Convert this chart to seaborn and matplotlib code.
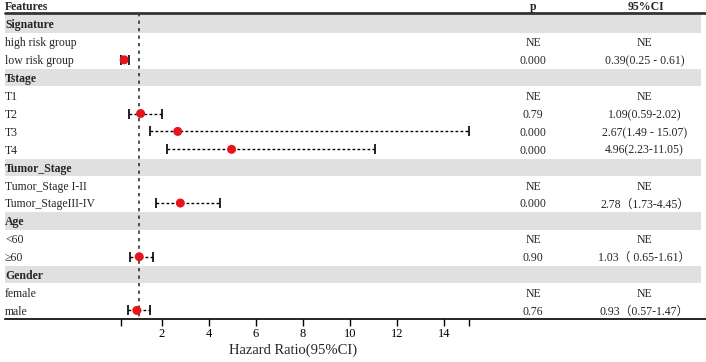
import numpy as np
import pandas as pd
import seaborn as sns
import matplotlib.pyplot as plt


# rows of the forest plot, top to bottom
features = ["Signature", "high risk group", "low risk group",
            "Tstage", "T1", "T2", "T3", "T4",
            "Tumor_Stage", "Tumor_Stage I-II", "Tumor_StageIII-IV",
            "Age", "<60", "\u226560",
            "Gender", "female", "male"]
is_group = [True, False, False,
            True, False, False, False, False,
            True, False, False,
            True, False, False,
            True, False, False]
hr = [np.nan, np.nan, 0.39,
      np.nan, np.nan, 1.09, 2.67, 4.96,
      np.nan, np.nan, 2.78,
      np.nan, np.nan, 1.03,
      np.nan, np.nan, 0.93]
lower = [np.nan, np.nan, 0.25,
         np.nan, np.nan, 0.59, 1.49, 2.23,
         np.nan, np.nan, 1.73,
         np.nan, np.nan, 0.65,
         np.nan, np.nan, 0.57]
upper = [np.nan, np.nan, 0.61,
         np.nan, np.nan, 2.02, 15.07, 11.05,
         np.nan, np.nan, 4.45,
         np.nan, np.nan, 1.61,
         np.nan, np.nan, 1.47]
p_text = ["", "NE", "0.000",
          "", "NE", "0.79", "0.000", "0.000",
          "", "NE", "0.000",
          "", "NE", "0.90",
          "", "NE", "0.76"]
ci_text = ["", "NE", "0.39(0.25 - 0.61)",
           "", "NE", "1.09(0.59-2.02)", "2.67(1.49 - 15.07)", "4.96(2.23-11.05)",
           "", "NE", "2.78\uff081.73-4.45\uff09",
           "", "NE", "1.03\uff08 0.65-1.61\uff09",
           "", "NE", "0.93\uff080.57-1.47\uff09"]
tick_values = [0.25, 2, 4, 6, 8, 10, 12, 14, 15.07]
tick_labels = ["", "2", "4", "6", "8", "10", "12", "14", ""]

df = pd.DataFrame({"feature": features, "group": is_group, "hr": hr,
                   "lower": lower, "upper": upper, "p": p_text, "ci": ci_text})
df["row"] = np.arange(len(df))

sns.set_theme(style="white")
plt.rcParams["font.family"] = ["Liberation Serif", "Noto Sans CJK SC"]
FS = 8.5

fig = plt.figure(figsize=(7.06, 3.62), dpi=100)
ax = fig.add_axes([0, 0, 1, 1])
ax.set_xlim(-4.894, 25.149)
ax.set_ylim(18.88, -1.341)
for s in ["top", "left", "right"]:
    ax.spines[s].set_visible(False)

# grey bands for the group headers
for r in df.loc[df["group"], "row"]:
    ax.axhspan(r - 0.48, r + 0.48, xmin=0.007, xmax=0.993, color="#e0e0e0", lw=0, zorder=0)

# header line
ax.axhline(-0.61, xmin=0.007, xmax=1, color="#333333", lw=2)

# reference line at HR = 1
ax.vlines(1, -0.61, 16.5, color="#333333", lw=1.2, linestyle=(0, (2, 2.5)), zorder=1)

# confidence intervals
est = df.dropna(subset=["hr"])
ax.hlines(est["row"], est["lower"], est["upper"], color="black", lw=1,
          linestyle=(0, (2, 1.6)), zorder=2)
ax.plot(est["lower"], est["row"], "|", color="black", ms=7, mew=1.2, zorder=2)
ax.plot(est["upper"], est["row"], "|", color="black", ms=7, mew=1.2, zorder=2)
sns.scatterplot(data=est, x="hr", y="row", color="#e8141c", s=42,
                edgecolor="none", zorder=3, ax=ax)

# text columns
tr = ax.get_yaxis_transform()
ax.text(5 / 706, -0.95, "Features", transform=tr, fontsize=FS, weight="bold",
        ha="left", va="center")
ax.text(0.755, -0.95, "p", transform=tr, fontsize=FS, weight="bold", ha="center", va="center")
ax.text(0.915, -0.95, "95%CI", transform=tr, fontsize=FS, weight="bold", ha="center", va="center")
for _, row in df.iterrows():
    ax.text(5 / 706, row["row"] + 0.08, row["feature"], transform=tr, fontsize=FS,
            weight="bold" if row["group"] else "normal", ha="left", va="center")
    if row["p"]:
        ax.text(0.755, row["row"] + 0.08, row["p"], transform=tr, fontsize=FS,
                ha="center", va="center")
        ax.text(0.913, row["row"] + 0.08, row["ci"], transform=tr, fontsize=FS,
                ha="center", va="center")

# bottom axis
ax.spines["bottom"].set_position(("data", 16.5))
ax.spines["bottom"].set_color("black")
ax.spines["bottom"].set_linewidth(1.2)
ax.spines["bottom"].set_bounds(-4.68, 25.149)
ax.set_xticks(tick_values)
ax.set_xticklabels(tick_labels)
ax.tick_params(axis="x", bottom=True, direction="out", length=5, width=1,
               labelsize=9, pad=1.5, colors="black")
ax.set_yticks([])
ax.set_xlabel("")
ax.set_ylabel("")
ax.text(293 / 706, 18.2, "Hazard Ratio(95%CI)", transform=tr, fontsize=10.5,
        ha="center", va="center")

fig.savefig("out.png", dpi=100)
